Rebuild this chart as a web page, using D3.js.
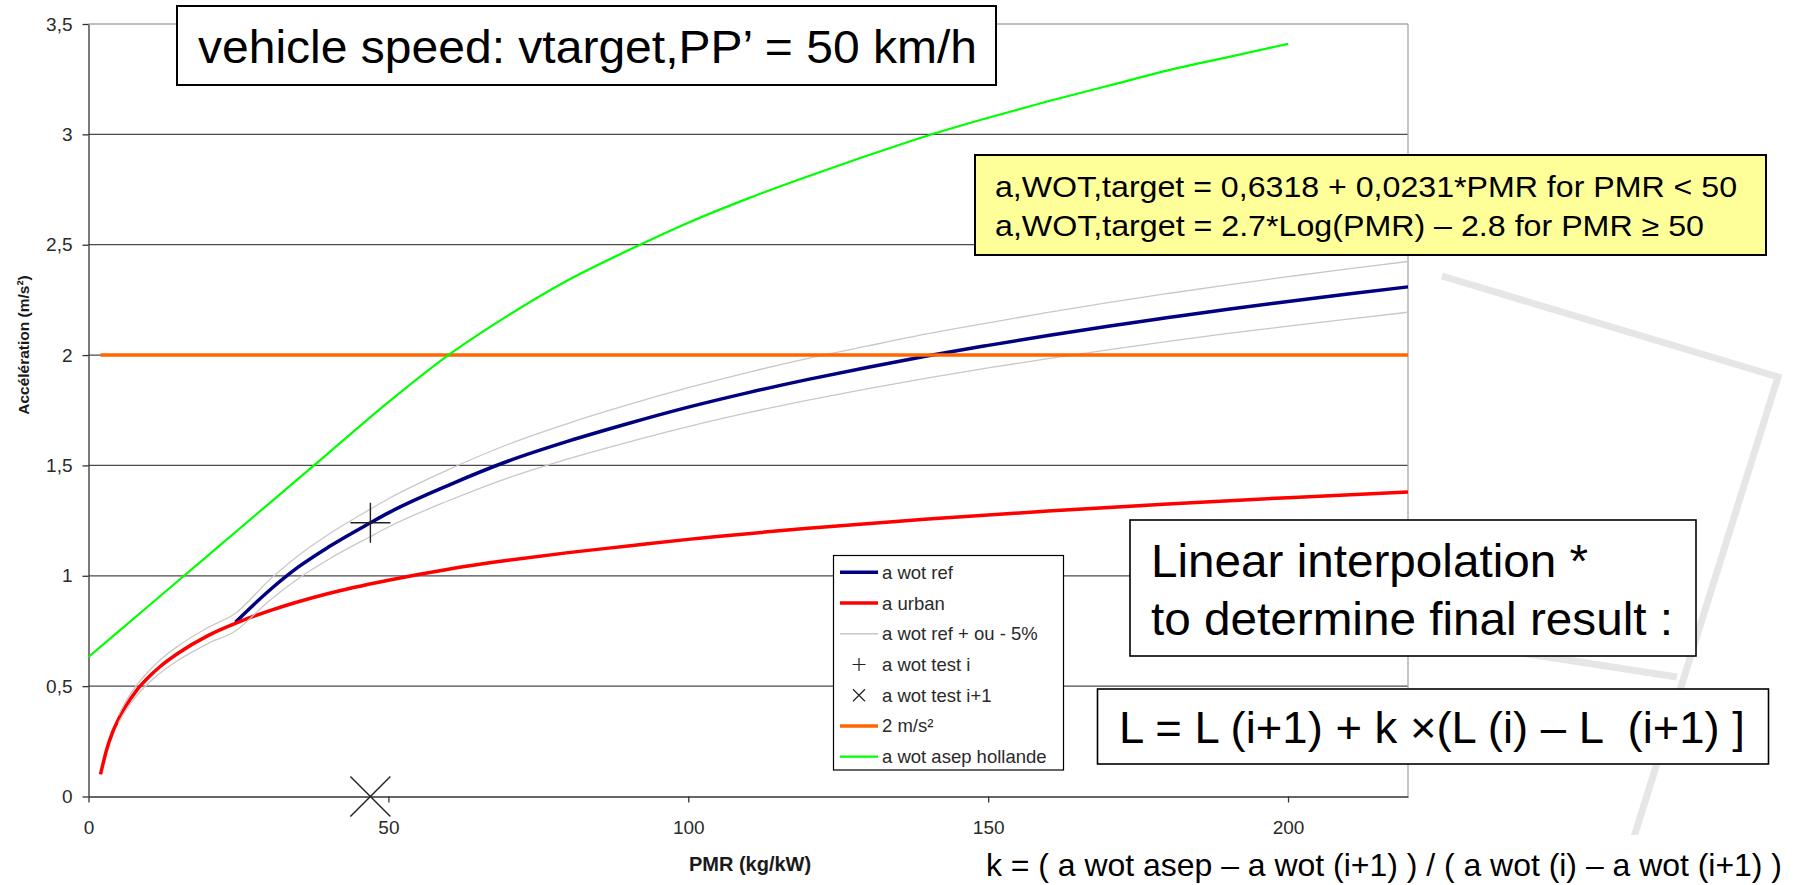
<!DOCTYPE html>
<html><head><meta charset="utf-8">
<script src="https://cdn.jsdelivr.net/npm/d3@7"></script>
<style>
body{margin:0;background:#fff}
svg{display:block}
text{font-family:"Liberation Sans",Arial,sans-serif}
</style>
</head><body>
<svg id="c" width="1802" height="885"></svg>
<script>
// ---------- data ----------
const pmrUrban = [2,3,4,5,6,8,10,12,15,20,25,30,40,50,60,70,80,90,100,120,140,160,180,200,220];
const aUrban   = [0.10,0.21,0.29,0.35,0.40,0.48,0.54,0.59,0.65,0.73,0.79,0.84,0.92,0.98,1.03,1.07,1.105,1.135,1.165,1.215,1.257,1.293,1.325,1.354,1.38];

const pmrWotRef = [24.5,30,35,40,47,50,60,70,80,90,100,110,120,130,140,150,160,170,180,190,200,210,220];
const aWotRef   = [0.79,0.93,1.04,1.13,1.24,1.285,1.41,1.52,1.61,1.69,1.764,1.83,1.89,1.945,1.997,2.044,2.089,2.131,2.17,2.208,2.243,2.277,2.309];

const pmrBand    = [5,6,8,10,12,15,20,24.5,30,35,40,47,50,60,70,80,90,100,110,120,130,140,150,160,170,180,190,200,210,220];
const aBandUpper = [0.368,0.42,0.504,0.567,0.62,0.683,0.767,0.83,0.977,1.092,1.187,1.302,1.349,1.481,1.596,1.691,1.775,1.852,1.922,1.985,2.042,2.097,2.146,2.193,2.238,2.279,2.318,2.355,2.391,2.424];
const aBandLower = [0.333,0.38,0.456,0.513,0.561,0.618,0.694,0.75,0.884,0.988,1.074,1.178,1.221,1.34,1.444,1.53,1.606,1.676,1.739,1.796,1.848,1.897,1.942,1.984,2.024,2.062,2.098,2.131,2.163,2.194];

const pmrAsep = [0,10,20,30,40,50,60,70,80,90,100,110,120,130,140,150,160,170,180,190,200];
const aAsep   = [0.632,0.863,1.094,1.325,1.556,1.787,2.0,2.18,2.34,2.475,2.60,2.71,2.81,2.905,2.995,3.075,3.15,3.22,3.29,3.35,3.41];

const pmr2ms = [2,220];
const a2ms   = [2,2];

const pmrTestI = [47];  const aTestI = [1.24];
const pmrTestI1 = [47]; const aTestI1 = [0];

const xTicks = [0,50,100,150,200];
const yTicks = [0,0.5,1,1.5,2,2.5,3,3.5];
const yTickLabels = ["0","0,5","1","1,5","2","2,5","3","3,5"];

const legendLabels = ["a wot ref","a urban","a wot ref + ou - 5%","a wot test i","a wot test i+1","2 m/s\u00B2","a wot asep hollande"];

// ---------- setup ----------
const svg = d3.select("#c");
const x = d3.scaleLinear().domain([0,220]).range([88.5,1408]);
const y = d3.scaleLinear().domain([0,3.5]).range([796.5,24]);
const zip = (a,b)=>a.map((v,i)=>[v,b[i]]);
const line = d3.line().x(d=>x(d[0])).y(d=>y(d[1])).curve(d3.curveMonotoneX);

// background watermark (slide template)
svg.append("path")
  .attr("d","M1442,276 L1778,377 L1633,840 M1677,677 L1470,645")
  .attr("fill","none").attr("stroke","#e6e6e6").attr("stroke-width",7);

// gridlines
svg.append("g").selectAll("line").data(yTicks.filter(t=>t>0)).join("line")
  .attr("x1",x(0)).attr("x2",x(220))
  .attr("y1",d=>y(d)).attr("y2",d=>y(d))
  .attr("stroke",d=>d===3.5?"#a8a8a8":"#4a4a4a").attr("stroke-width",1.3);
// right border
svg.append("line").attr("x1",x(220)).attr("x2",x(220)).attr("y1",y(3.5)).attr("y2",y(0))
  .attr("stroke","#a8a8a8").attr("stroke-width",1.3);

// axes
const yAxis = svg.append("g").attr("transform",`translate(${x(0)},0)`)
  .call(d3.axisLeft(y).tickValues(yTicks).tickFormat((d,i)=>yTickLabels[i]).tickSize(6).tickSizeOuter(0).tickPadding(10));
const xAxis = svg.append("g").attr("transform",`translate(0,${y(0)})`)
  .call(d3.axisBottom(x).tickValues(xTicks).tickFormat(d3.format("d")).tickSize(6).tickSizeOuter(0).tickPadding(18));
[yAxis,xAxis].forEach(g=>{
  g.attr("font-family",null).attr("font-size",null);
  g.select(".domain").attr("stroke","#333").attr("stroke-width",1.3);
  g.selectAll(".tick line").attr("stroke","#333").attr("stroke-width",1.3);
  g.selectAll(".tick text").attr("fill","#2a2a2a").style("font-size","19px");
});

// axis titles
svg.append("text").attr("x",750).attr("y",871).attr("text-anchor","middle")
  .attr("font-weight","bold").style("font-size","20px").attr("fill","#1a1a1a").text("PMR (kg/kW)");
svg.append("text").attr("transform","translate(29,345) rotate(-90)").attr("text-anchor","middle")
  .attr("font-weight","bold").style("font-size","15.5px").attr("fill","#1a1a1a").text("Accélération (m/s\u00B2)");

// series
svg.append("path").datum(zip(pmrWotRef,aWotRef)).attr("d",line)
  .attr("fill","none").attr("stroke","#000080").attr("stroke-width",3.5);
svg.append("path").datum(zip(pmrUrban,aUrban)).attr("d",line)
  .attr("fill","none").attr("stroke","#ff0000").attr("stroke-width",3.5);
[aBandUpper,aBandLower].forEach(arr=>{
  svg.append("path").datum(zip(pmrBand,arr)).attr("d",line)
    .attr("fill","none").attr("stroke","#c8c8c8").attr("stroke-width",1.3);
});
// markers
const plus = (cx,cy,r)=>`M${cx-r},${cy}H${cx+r}M${cx},${cy-r}V${cy+r}`;
const cross = (cx,cy,r)=>`M${cx-r},${cy-r}L${cx+r},${cy+r}M${cx+r},${cy-r}L${cx-r},${cy+r}`;
svg.append("g").selectAll("path").data(zip(pmrTestI,aTestI)).join("path")
  .attr("d",d=>plus(x(d[0]),y(d[1]),20)).attr("stroke","#222").attr("stroke-width",1.4).attr("fill","none");
svg.append("g").selectAll("path").data(zip(pmrTestI1,aTestI1)).join("path")
  .attr("d",d=>cross(x(d[0]),y(d[1]),20)).attr("stroke","#222").attr("stroke-width",1.4).attr("fill","none");
svg.append("path").datum(zip(pmr2ms,a2ms)).attr("d",line)
  .attr("fill","none").attr("stroke","#ff6600").attr("stroke-width",3.5);
svg.append("path").datum(zip(pmrAsep,aAsep)).attr("d",line)
  .attr("fill","none").attr("stroke","#00ff00").attr("stroke-width",2.2);

// legend
const lg = svg.append("g");
lg.append("rect").attr("x",833.5).attr("y",555.5).attr("width",230).attr("height",214.5)
  .attr("fill","#fff").attr("stroke","#000").attr("stroke-width",1.2);
const legStyles = [
  {type:"line",color:"#000080",w:3.5},
  {type:"line",color:"#ff0000",w:3.5},
  {type:"line",color:"#c8c8c8",w:1.3},
  {type:"plus"},
  {type:"cross"},
  {type:"line",color:"#ff6600",w:3.5},
  {type:"line",color:"#00ff00",w:2.2}
];
const legRow = d3.scaleLinear().domain([0,6]).range([572.3,756.7]);
const items = lg.selectAll("g.item").data(legendLabels).join("g").attr("class","item")
  .attr("transform",(d,i)=>`translate(0,${legRow(i)})`);
items.each(function(d,i){
  const g = d3.select(this), s = legStyles[i];
  if(s.type==="line") g.append("line").attr("x1",840).attr("x2",878).attr("y1",0).attr("y2",0)
     .attr("stroke",s.color).attr("stroke-width",s.w);
  else if(s.type==="plus") g.append("path").attr("d",plus(859,0,6.5)).attr("stroke","#222").attr("stroke-width",1.2);
  else g.append("path").attr("d",cross(859,0,6)).attr("stroke","#222").attr("stroke-width",1.2);
  g.append("text").attr("x",882).attr("y",0).attr("dy","0.35em").style("font-size","18.5px")
   .attr("fill","#2a2a2a").text(d);
});

// annotation boxes
function box(x0,y0,w,h,fill,sw){
  svg.append("rect").attr("x",x0).attr("y",y0).attr("width",w).attr("height",h)
    .attr("fill",fill).attr("stroke","#000").attr("stroke-width",sw);
}
function txt(x0,y0,size,len,s){
  svg.append("text").attr("x",x0).attr("y",y0).style("font-size",size+"px").style("white-space","pre")
    .attr("fill","#000").attr("textLength",len).attr("lengthAdjust","spacingAndGlyphs").text(s);
}
box(177,6,819,79,"#fff",2);
txt(198,63,46,779,"vehicle speed: vtarget,PP\u2019 = 50 km/h");

box(975,155,791,100,"#ffff99",2);
txt(995,197,29,742,"a,WOT,target = 0,6318 + 0,0231*PMR for PMR < 50");
txt(995,236,29,709,"a,WOT,target = 2.7*Log(PMR) \u2013 2.8 for PMR \u2265 50");

box(1130,520,566,136,"#fff",1.6);
txt(1151,577,47,437,"Linear interpolation *");
txt(1151,635,47,522,"to determine final result :");

box(1097.5,689,671,75,"#fff",1.6);
txt(1119,743,45,626,"L = L (i+1) + k \u00D7(L (i) \u2013 L  (i+1) ]");

svg.append("rect").attr("x",965).attr("y",835).attr("width",837).attr("height",50).attr("fill","#fff");
txt(986,876,32,796,"k = ( a wot asep \u2013 a wot (i+1) ) / ( a wot (i) \u2013 a wot (i+1) )");
</script>
</body></html>
